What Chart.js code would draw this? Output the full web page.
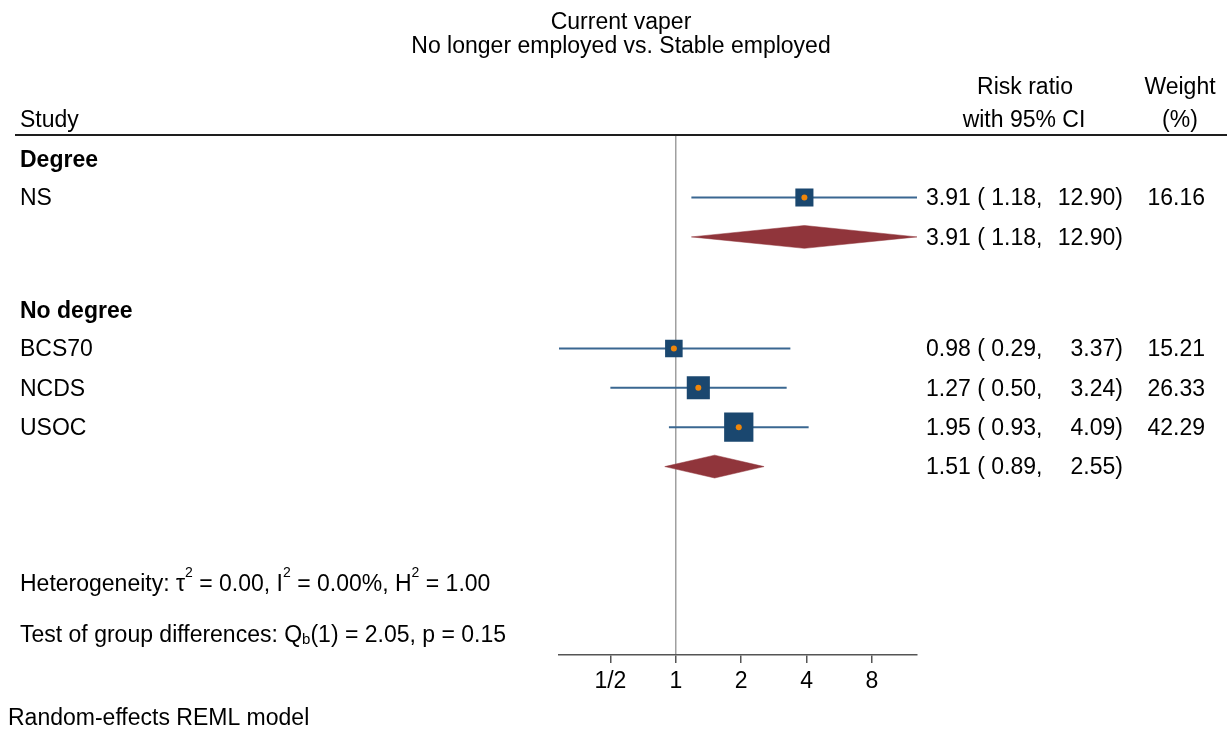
<!DOCTYPE html>
<html><head><meta charset="utf-8">
<script src="https://cdn.jsdelivr.net/npm/chart.js@4.4.0/dist/chart.umd.min.js"></script>
<style>html,body{margin:0;padding:0;background:#fff}#wrap{width:1227px;height:730px;position:relative}</style>
</head><body><div id="wrap"><canvas id="c" width="1227" height="730"></canvas></div>
<script>
// ---- data ----
const studies = ['NS', 'BCS70', 'NCDS', 'USOC'];
const studyGroup = ['Degree', 'No degree', 'No degree', 'No degree'];
const studyRR = [3.91, 0.98, 1.27, 1.95];
const studyLo = [1.18, 0.29, 0.50, 0.93];
const studyHi = [12.90, 3.37, 3.24, 4.09];
const studyWeight = [16.16, 15.21, 26.33, 42.29];
const groups = ['Degree', 'No degree'];
const pooledRR = [3.91, 1.51];
const pooledLo = [1.18, 0.89];
const pooledHi = [12.90, 2.55];
const xTicks = [0.5, 1, 2, 4, 8];
const xTickLabels = ['1/2', '1', '2', '4', '8'];
const titleLines = ['Current vaper', 'No longer employed vs. Stable employed'];
const hetText = {tau2: '0.00', I2: '0.00%', H2: '1.00'};
const testText = {df: '1', Q: '2.05', p: '0.15'};
const footnote = 'Random-effects REML model';

// ---- row layout (row units) ----
const firstHeading = 0.62, headToStudy = 0.98, step = 1, groupGap = 1.85;
const headingY = [], studyY = [], pooledY = [];
let yy = firstHeading;
groups.forEach((g, gi) => {
  if (gi > 0) yy += groupGap;
  headingY[gi] = yy;
  let first = true;
  studies.forEach((s, i) => {
    if (studyGroup[i] === g) { yy += first ? headToStudy : step; first = false; studyY[i] = yy; }
  });
  yy += step; pooledY[gi] = yy;
});

const FONT = '"Liberation Sans", Arial, sans-serif';
const FS = 23;
const NAVY = '#1a476f', CI = '#3a6791', MAROON = '#90353b', ORANGE = '#f0860a';
const diamondHalf = 0.29;
const TEXT_DY = 1.5;

const datasets = [];
datasets.push({
  data: studies.map((s, i) => ({x: studyRR[i], y: studyY[i]})),
  pointStyle: 'circle', pointRadius: 3, backgroundColor: ORANGE, borderWidth: 0, showLine: false, order: 0
});
datasets.push({
  data: studies.map((s, i) => ({x: studyRR[i], y: studyY[i]})),
  pointStyle: 'rect',
  pointRadius: studyWeight.map(w => 4.5 * Math.sqrt(w) / Math.SQRT2),
  backgroundColor: NAVY, borderColor: NAVY, borderWidth: 0, showLine: false, order: 1
});
studies.forEach((s, i) => {
  datasets.push({
    data: [{x: studyLo[i], y: studyY[i]}, {x: studyHi[i], y: studyY[i]}],
    showLine: true, borderColor: CI, borderWidth: 2, pointRadius: 0, order: 2
  });
});
groups.forEach((g, gi) => {
  const yv = pooledY[gi];
  datasets.push({
    data: [{x: pooledLo[gi], y: yv}, {x: pooledRR[gi], y: yv - diamondHalf},
           {x: pooledHi[gi], y: yv}, {x: pooledRR[gi], y: yv + diamondHalf},
           {x: pooledLo[gi], y: yv}],
    showLine: true, fill: 'shape', backgroundColor: MAROON, borderColor: MAROON,
    borderWidth: 0.5, pointRadius: 0, tension: 0, order: 3
  });
});

function txt(ctx, s, x, y, opts = {}) {
  ctx.font = (opts.bold ? 'bold ' : '') + (opts.size || FS) + 'px ' + FONT;
  ctx.textAlign = opts.align || 'left';
  ctx.textBaseline = 'middle';
  ctx.fillStyle = '#000';
  ctx.fillText(s, x, y + TEXT_DY);
  return ctx.measureText(s).width;
}
function runs(ctx, parts, x, y) {
  let cx = x;
  parts.forEach(([s, k]) => {
    let size = FS, dy = 0;
    if (k === 'sup') { size = 14; dy = -11; }
    if (k === 'sub') { size = 15; dy = 4; }
    cx += txt(ctx, s, cx, y + dy, {size});
  });
}

const textPlugin = {
  id: 'forestText',
  afterDraw(chart) {
    const ctx = chart.ctx, ys = chart.scales.y;
    ctx.save();
    txt(ctx, titleLines[0], 621, 21, {align: 'center'});
    txt(ctx, titleLines[1], 621, 45, {align: 'center'});
    txt(ctx, 'Study', 20, 119);
    txt(ctx, 'Risk ratio', 1025, 86, {align: 'center'});
    txt(ctx, 'with 95% CI', 1024, 119, {align: 'center'});
    txt(ctx, 'Weight', 1180, 86, {align: 'center'});
    txt(ctx, '(%)', 1180, 119, {align: 'center'});
    ctx.strokeStyle = '#1e1e1e'; ctx.lineWidth = 2;
    ctx.beginPath(); ctx.moveTo(15, 135); ctx.lineTo(1227, 135); ctx.stroke();
    const fmt = v => v.toFixed(2);
    groups.forEach((g, gi) => {
      txt(ctx, g, 20, ys.getPixelForValue(headingY[gi]), {bold: true});
      const py = ys.getPixelForValue(pooledY[gi]);
      txt(ctx, fmt(pooledRR[gi]) + ' ( ' + fmt(pooledLo[gi]) + ',', 926, py);
      txt(ctx, fmt(pooledHi[gi]) + ')', 1123, py, {align: 'right'});
    });
    studies.forEach((s, i) => {
      const py = ys.getPixelForValue(studyY[i]);
      txt(ctx, s, 20, py);
      txt(ctx, fmt(studyRR[i]) + ' ( ' + fmt(studyLo[i]) + ',', 926, py);
      txt(ctx, fmt(studyHi[i]) + ')', 1123, py, {align: 'right'});
      txt(ctx, fmt(studyWeight[i]), 1205, py, {align: 'right'});
    });
    runs(ctx, [['Heterogeneity: \u03C4', 'n'], ['2', 'sup'], [' = ' + hetText.tau2 + ', I', 'n'], ['2', 'sup'],
               [' = ' + hetText.I2 + ', H', 'n'], ['2', 'sup'], [' = ' + hetText.H2, 'n']], 20, 583);
    runs(ctx, [['Test of group differences: Q', 'n'], ['b', 'sub'],
               ['(' + testText.df + ') = ' + testText.Q + ', p = ' + testText.p, 'n']], 20, 634);
    txt(ctx, footnote, 8, 717);
    ctx.restore();
  }
};

const allLo = studyLo.concat(pooledLo), allHi = studyHi.concat(pooledHi);
new Chart(document.getElementById('c'), {
  type: 'scatter',
  data: {datasets},
  options: {
    responsive: false, animation: false, events: [],
    layout: {padding: {left: 559, right: 310, top: 134.5, bottom: 29.5}},
    plugins: {legend: {display: false}, tooltip: {enabled: false}, title: {display: false}},
    scales: {
      x: {
        type: 'logarithmic',
        min: Math.min(...allLo), max: Math.max(...allHi),
        afterBuildTicks: (scale) => { scale.ticks = xTicks.map(v => ({value: v})); },
        ticks: {
          autoSkip: false, maxRotation: 0, padding: 5, color: '#000',
          font: {family: FONT, size: FS},
          callback: (v, i) => xTickLabels[i]
        },
        grid: {
          drawOnChartArea: true, drawTicks: true, tickLength: 8, tickWidth: 1.5, tickColor: '#555',
          color: (c) => (c.tick && c.tick.value === 1) ? '#a0a0a0' : 'rgba(0,0,0,0)',
          lineWidth: 1.5
        },
        border: {display: true, color: '#555', width: 1.5}
      },
      y: {
        type: 'linear', reverse: true, min: 0, max: 520.5 / 39.4, display: false
      }
    }
  },
  plugins: [textPlugin]
});
</script></body></html>
